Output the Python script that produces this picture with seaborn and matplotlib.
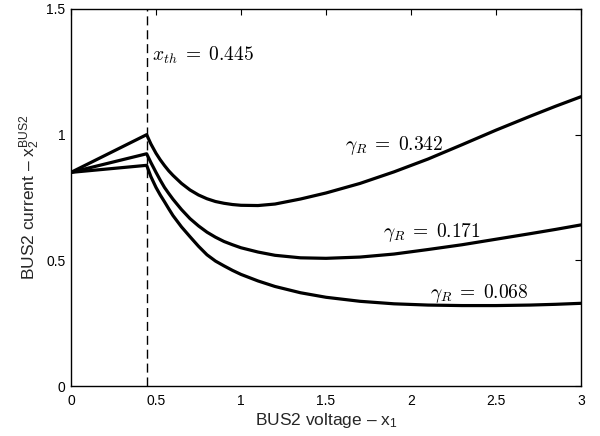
import matplotlib
matplotlib.use("Agg")
import matplotlib.pyplot as plt
import seaborn as sns
import pandas as pd

# BUS2 voltage samples (x1); the kink sits at the threshold voltage
x_th = 0.445
x1 = [0.0, 0.445, 0.47, 0.5, 0.525, 0.55, 0.575, 0.6, 0.65, 0.7, 0.75, 0.8,
      0.85, 0.9, 0.95, 1.0, 1.1, 1.2, 1.35, 1.5, 1.7, 1.9, 2.1, 2.3, 2.5, 2.7,
      2.85, 3.0]

# BUS2 current for each gamma_R
i_0342 = [0.850, 1.000, 0.963, 0.926, 0.900, 0.877, 0.856, 0.838, 0.806, 0.780,
          0.760, 0.745, 0.734, 0.727, 0.722, 0.719, 0.718, 0.724, 0.744, 0.768,
          0.806, 0.852, 0.903, 0.960, 1.018, 1.073, 1.113, 1.151]
i_0171 = [0.850, 0.924, 0.889, 0.850, 0.819, 0.790, 0.766, 0.743, 0.702, 0.666,
          0.637, 0.612, 0.592, 0.575, 0.562, 0.550, 0.533, 0.520, 0.510, 0.508,
          0.513, 0.525, 0.543, 0.562, 0.584, 0.606, 0.623, 0.641]
i_0068 = [0.850, 0.878, 0.833, 0.790, 0.760, 0.733, 0.705, 0.678, 0.633, 0.594,
          0.556, 0.522, 0.497, 0.478, 0.460, 0.444, 0.418, 0.396, 0.371, 0.353,
          0.337, 0.327, 0.322, 0.320, 0.320, 0.322, 0.325, 0.329]

gammas = ["0.342", "0.171", "0.068"]
series = [i_0342, i_0171, i_0068]
label_pos = [(1.612, 0.939), (1.835, 0.592), (2.112, 0.349)]

x_ticks = [0, 0.5, 1, 1.5, 2, 2.5, 3]
x_tick_labels = ["0", "0.5", "1", "1.5", "2", "2.5", "3"]
y_ticks = [0, 0.5, 1, 1.5]
y_tick_labels = ["0", "0.5", "1", "1.5"]

sns.set_theme(style="white")
plt.rcParams["font.family"] = ["Liberation Sans", "DejaVu Sans"]
plt.rcParams["mathtext.fontset"] = "cm"

fig = plt.figure(figsize=(6.0, 4.36), dpi=100)
ax = fig.add_axes([71 / 600, 1 - 386 / 436, 510 / 600, 377 / 436])

frames = []
for g, vals in zip(gammas, series):
    frames.append(pd.DataFrame({"x1": x1, "current": vals, "gamma": g}))
df = pd.concat(frames, ignore_index=True)

sns.lineplot(data=df, x="x1", y="current", hue="gamma", units="gamma",
             estimator=None, sort=False, palette=["black"] * 3,
             linewidth=2.3, legend=False, ax=ax)

ax.axvline(x_th, color="black", linewidth=1.0, linestyle=(0, (6.5, 3.5)))

ax.set_xlim(0, 3)
ax.set_ylim(0, 1.5)
ax.set_xticks(x_ticks)
ax.set_xticklabels(x_tick_labels)
ax.set_yticks(y_ticks)
ax.set_yticklabels(y_tick_labels)
ax.tick_params(axis="both", direction="in", length=4, width=0.8,
               top=True, right=True, labelsize=10, colors="black")
ax.tick_params(axis="x", pad=6)
ax.tick_params(axis="y", pad=4)
for sp in ax.spines.values():
    sp.set_visible(True)
    sp.set_color("black")
    sp.set_linewidth(1.0)

ax.set_xlabel(r"BUS2 voltage – $\mathregular{x_1}$", fontsize=12.5, labelpad=2)
ax.set_ylabel(r"BUS2 current – $\mathregular{x_2^{BUS2}}$", fontsize=12.5,
              labelpad=3)

ax.text(0.476, 1.293, r"$x_{th}\;=\;0.445$", fontsize=14, ha="left",
        va="baseline", color="black")
for g, (tx, ty) in zip(gammas, label_pos):
    ax.text(tx, ty, r"$\gamma_R\;=\;%s$" % g, fontsize=14, ha="left",
            va="baseline", color="black")

fig.savefig("out.png", dpi=100, facecolor="white")
